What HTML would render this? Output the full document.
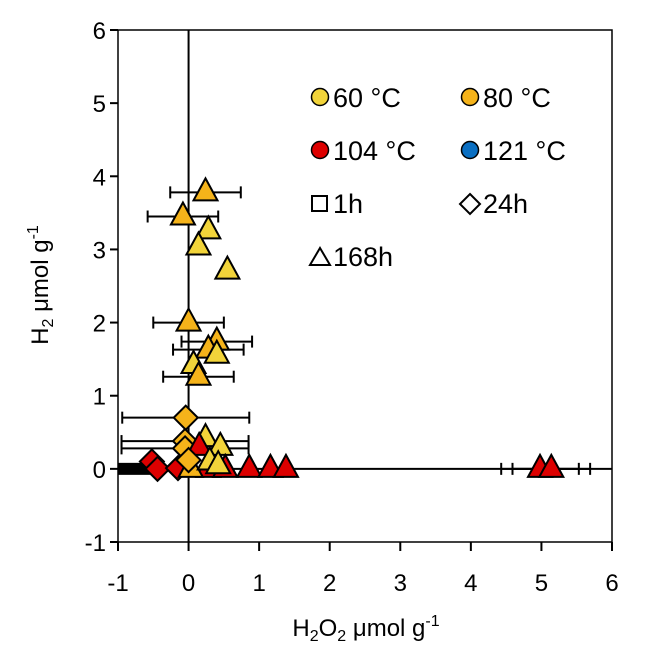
<!DOCTYPE html>
<html><head><meta charset="utf-8"><style>
body{margin:0;background:#fff}
svg{display:block;font-family:"Liberation Sans",Arial,sans-serif}
</style></head><body>
<svg id="chart" width="653" height="652" viewBox="0 0 653 652" xmlns="http://www.w3.org/2000/svg">
<rect width="653" height="652" fill="#fff"/>
<g id="axes"></g>
<g id="marks"></g>
<g id="legend">
 <circle cx="320" cy="97" r="8.5" fill="#F2D43A" stroke="#000" stroke-width="1.5"/>
 <text x="333" y="107" font-size="27">60 °C</text>
 <circle cx="470" cy="97" r="8.5" fill="#F5B31A" stroke="#000" stroke-width="1.5"/>
 <text x="483" y="107" font-size="27">80 °C</text>
 <circle cx="320" cy="150" r="8.5" fill="#DD0000" stroke="#000" stroke-width="1.5"/>
 <text x="333" y="160" font-size="27">104 °C</text>
 <circle cx="470" cy="150" r="8.5" fill="#0A6FC2" stroke="#000" stroke-width="1.5"/>
 <text x="483" y="160" font-size="27">121 °C</text>
 <rect x="312" y="196" width="15" height="15" fill="#fff" stroke="#000" stroke-width="2"/>
 <text x="333" y="213" font-size="27">1h</text>
 <polygon points="470,194 480,204 470,214 460,204" fill="#fff" stroke="#000" stroke-width="2"/>
 <text x="483" y="213" font-size="27">24h</text>
 <polygon points="320,248 330,265 310,265" fill="#fff" stroke="#000" stroke-width="2"/>
 <text x="333" y="266" font-size="27">168h</text>
</g>
<text x="366" y="636" font-size="24" text-anchor="middle">H<tspan font-size="16" dy="5">2</tspan><tspan dy="-5">O</tspan><tspan font-size="16" dy="5">2</tspan><tspan dy="-5"> μmol g</tspan><tspan font-size="16" dy="-10">-1</tspan></text>
<text transform="translate(48,285) rotate(-90)" font-size="24" text-anchor="middle">H<tspan font-size="16" dy="5">2</tspan><tspan dy="-5"> μmol g</tspan><tspan font-size="16" dy="-10">-1</tspan></text>
</svg>
<script>
const xTicks=[-1,0,1,2,3,4,5,6];
const yTicks=[-1,0,1,2,3,4,5,6];
const seriesX=[0.24,-0.08,0.28,0.14,0.55,0,0.4,0.28,0.4,0.07,0.14,-0.04,-0.05,-0.05,0.24,0.45,0.15,-0.52,-0.44,-0.15,0.28,0.52,0.86,1.16,1.38,4.98,5.14,0.03,0.3,0.0,0.42];
const seriesY=[3.78,3.45,3.26,3.04,2.71,2.0,1.74,1.63,1.56,1.42,1.26,0.7,0.38,0.28,0.42,0.3,0.3,0.1,0.0,0.01,0.0,0.0,0.0,0.0,0.0,0.0,0.0,0.0,0.1,0.12,0.05];
const seriesErr=[0.5,0.5,0,0,0,0.5,0.5,0.5,0,0,0.5,0.9,0.9,0.9,0,0,0,0,0,0,0,0,0,0,0,0.55,0.55,0,0,0,0];
const seriesTemp=["80","80","60","60","60","80","80","80","60","60","80","80","80","80","60","60","104","104","104","104","104","104","104","104","104","104","104","80","60","80","60"];
const seriesShape=["tri","tri","tri","tri","tri","tri","tri","tri","tri","tri","tri","dia","dia","dia","tri","tri","tri","dia","dia","dia","tri","tri","tri","tri","tri","tri","tri","tri","tri","dia","tri"];
const colors={"60":"#F2D43A","80":"#F5B31A","104":"#DD0000","121":"#0A6FC2"};
const L=118,R=612,T=30,B=542;
function sx(v){return L+(v+1)/7*(R-L);}
function sy(v){return B-(v+1)/7*(B-T);}
const NS="http://www.w3.org/2000/svg";
function mk(tag,attrs,parent){const e=document.createElementNS(NS,tag);for(const k in attrs)e.setAttribute(k,attrs[k]);parent.appendChild(e);return e;}
const axes=document.getElementById('axes'),marks=document.getElementById('marks');
let e=mk('rect',{x:L,y:T,width:R-L,height:B-T,fill:'none',stroke:'#000','stroke-width':1.5},axes);


e=mk('line',{x1:sx(0),x2:sx(0),y1:T,y2:B,stroke:'#000','stroke-width':2},axes);


e=mk('line',{x1:L,x2:R,y1:sy(0),y2:sy(0),stroke:'#000','stroke-width':2},axes);


xTicks.forEach(t=>{
 mk('line',{x1:sx(t),x2:sx(t),y1:B,y2:B+9,stroke:'#000','stroke-width':2},axes);
 const tx=mk('text',{x:sx(t),y:B+49,'font-size':24,'text-anchor':'middle'},axes);
 tx.textContent=t;
 
 
});
yTicks.forEach(t=>{
 mk('line',{x1:L-8,x2:L,y1:sy(t),y2:sy(t),stroke:'#000','stroke-width':2},axes);
 const tx=mk('text',{x:L-12,y:sy(t)+9,'font-size':24,'text-anchor':'end'},axes);
 tx.textContent=t;
 
 
});
e=mk('rect',{x:sx(-1),y:sy(0)-6,width:sx(-0.5)-sx(-1),height:12,fill:'#000'},marks);


for(let i=0;i<seriesX.length;i++){
 const cy=sy(seriesY[i]);
 if(seriesErr[i]>0){
  const a=sx(Math.max(-1,seriesX[i]-seriesErr[i])),b=sx(seriesX[i]+seriesErr[i]);
  const g=mk('g',{stroke:'#000','stroke-width':2},marks);
  
  
  mk('line',{x1:a,x2:b,y1:cy,y2:cy},g);
  mk('line',{x1:a,x2:a,y1:cy-6,y2:cy+6},g);
  mk('line',{x1:b,x2:b,y1:cy-6,y2:cy+6},g);
 }
}
for(let i=0;i<seriesX.length;i++){
 const cx=sx(seriesX[i]),cy=sy(seriesY[i]);
 let p;
 if(seriesShape[i]==='tri') p=`${cx},${cy-14} ${cx+12},${cy+8} ${cx-12},${cy+8}`;
 else p=`${cx},${cy-12} ${cx+12},${cy} ${cx},${cy+12} ${cx-12},${cy}`;
 const m=mk('polygon',{points:p,fill:colors[seriesTemp[i]],stroke:'#000','stroke-width':2},marks);
 
 
}
</script>
</body></html>
